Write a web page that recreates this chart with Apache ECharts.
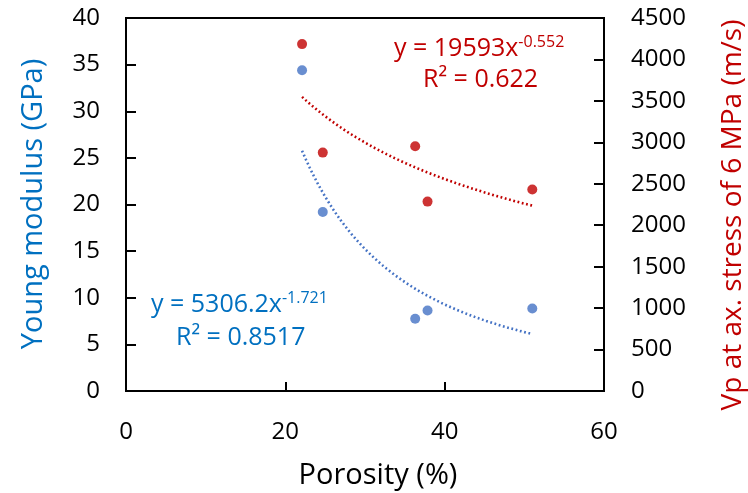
<!DOCTYPE html>
<html>
<head>
<meta charset="utf-8">
<script src="https://cdn.jsdelivr.net/npm/echarts@6/dist/echarts.min.js"></script>
<style>
  html, body { margin: 0; padding: 0; background: #fff; }
  #chart { width: 748px; height: 493px; }
</style>
</head>
<body>
<div id="chart"></div>
<script>
// Porosity (%) of each sample
const porosity = [22.1, 24.7, 36.3, 37.85, 51.0];
// Young modulus (GPa)
const youngModulus = [34.4, 19.2, 7.74, 8.64, 8.85];
// Vp at axial stress of 6 MPa (m/s)
const vp = [4185, 2876, 2952, 2285, 2430];

// Power-law fits y = a * x^b
const youngFit = { a: 5306.2, b: -1.721, r2: '0.8517' };
const vpFit = { a: 19593, b: -0.552, r2: '0.622' };

const xTicks = [0, 20, 40, 60];
const leftTicks = [0, 40, 5];
const rightTicks = [0, 4500, 500];

const BLUE = '#4472C4';
const BLUE_TXT = '#0070C0';
const RED = '#C00000';
const FONT = '"Open Sans", sans-serif';

function fitCurve(fit) {
  const x0 = Math.min(...porosity), x1 = Math.max(...porosity);
  const pts = [];
  const n = 60;
  for (let i = 0; i <= n; i++) {
    const x = x0 + (x1 - x0) * i / n;
    pts.push([x, fit.a * Math.pow(x, fit.b)]);
  }
  return pts;
}

// Equation text "y = a x^b" with the exponent raised
function equation(fit, color, x, y) {
  return {
    type: 'text', x: x, y: y, z: 10,
    style: {
      text: '{b|y = ' + fit.a + 'x}{s|' + fit.b + '}',
      rich: {
        b: { fontSize: 25, fontFamily: FONT, fill: color, color: color },
        s: { fontSize: 16, fontFamily: FONT, fill: color, color: color, verticalAlign: 'top', padding: [0, 0, 13, 0] }
      }
    }
  };
}
function rSquared(fit, color, x, y) {
  return {
    type: 'text', x: x, y: y, z: 10,
    style: { text: 'R² = ' + fit.r2, fontSize: 25, fontFamily: FONT, fill: color }
  };
}

const chart = echarts.init(document.getElementById('chart'), null, { renderer: 'canvas' });

const tickLabel = { color: '#000', fontSize: 24, fontFamily: FONT, formatter: v => String(v) };

chart.setOption({
  animation: false,
  grid: {
    left: 126, right: 144, top: 18, bottom: 102,
    outerBoundsMode: 'none', containLabel: false,
    show: true, borderColor: '#000', borderWidth: 2, backgroundColor: 'transparent'
  },
  xAxis: {
    type: 'value', min: xTicks[0], max: xTicks[xTicks.length - 1], interval: 20,
    axisLine: { show: true, lineStyle: { color: '#000', width: 2 } },
    axisTick: { show: true, inside: true, length: 9, lineStyle: { color: '#000', width: 2 } },
    axisLabel: Object.assign({}, tickLabel, { margin: 29 }),
    splitLine: { show: false }
  },
  yAxis: [
    {
      type: 'value', min: leftTicks[0], max: leftTicks[1], interval: leftTicks[2],
      axisLine: { show: true, lineStyle: { color: '#000', width: 2 } },
      axisTick: { show: true, inside: true, length: 10, lineStyle: { color: '#000', width: 2 } },
      axisLabel: Object.assign({}, tickLabel, { margin: 26 }),
      splitLine: { show: false }
    },
    {
      type: 'value', min: rightTicks[0], max: rightTicks[1], interval: rightTicks[2],
      position: 'right',
      axisLine: { show: true, lineStyle: { color: '#000', width: 2 } },
      axisTick: { show: true, inside: true, length: 10, lineStyle: { color: '#000', width: 2 } },
      axisLabel: Object.assign({}, tickLabel, { margin: 27 }),
      splitLine: { show: false }
    }
  ],
  series: [
    {
      type: 'line', yAxisIndex: 1, data: fitCurve(vpFit), showSymbol: false, smooth: false,
      lineStyle: { color: RED, width: 2.6, type: [1.8, 2.6] }, z: 1, silent: true
    },
    {
      type: 'line', yAxisIndex: 0, data: fitCurve(youngFit), showSymbol: false, smooth: false,
      lineStyle: { color: BLUE, width: 2.6, type: [1.8, 2.6] }, z: 1, silent: true
    },
    {
      type: 'scatter', yAxisIndex: 0, symbol: 'circle', symbolSize: 10,
      itemStyle: { color: BLUE },
      data: porosity.map((x, i) => [x, youngModulus[i]]), z: 3
    },
    {
      type: 'scatter', yAxisIndex: 1, symbol: 'circle', symbolSize: 10,
      itemStyle: { color: RED },
      data: porosity.map((x, i) => [x, vp[i]]), z: 3
    }
  ],
  graphic: [
    // axis titles
    {
      type: 'text', x: 378, y: 476, z: 10,
      style: {
        text: 'Porosity (%)', fontSize: 29, fontFamily: FONT, fill: '#000',
        align: 'center', verticalAlign: 'middle'
      }
    },
    {
      type: 'text', x: 34, y: 204, rotation: Math.PI / 2, z: 10,
      style: {
        text: 'Young modulus (GPa)', fontSize: 29, fontFamily: FONT, fill: BLUE_TXT,
        align: 'center', verticalAlign: 'middle'
      }
    },
    {
      type: 'text', x: 733, y: 215, rotation: Math.PI / 2, z: 10,
      style: {
        text: 'Vp at ax. stress of 6 MPa (m/s)', fontSize: 28, fontFamily: FONT, fill: RED,
        align: 'center', verticalAlign: 'middle'
      }
    },
    // fit equations
    equation(vpFit, RED, 394, 34),
    rSquared(vpFit, RED, 423, 67),
    equation(youngFit, BLUE_TXT, 151, 290),
    rSquared(youngFit, BLUE_TXT, 176, 325)
  ]
});
</script>
</body>
</html>
